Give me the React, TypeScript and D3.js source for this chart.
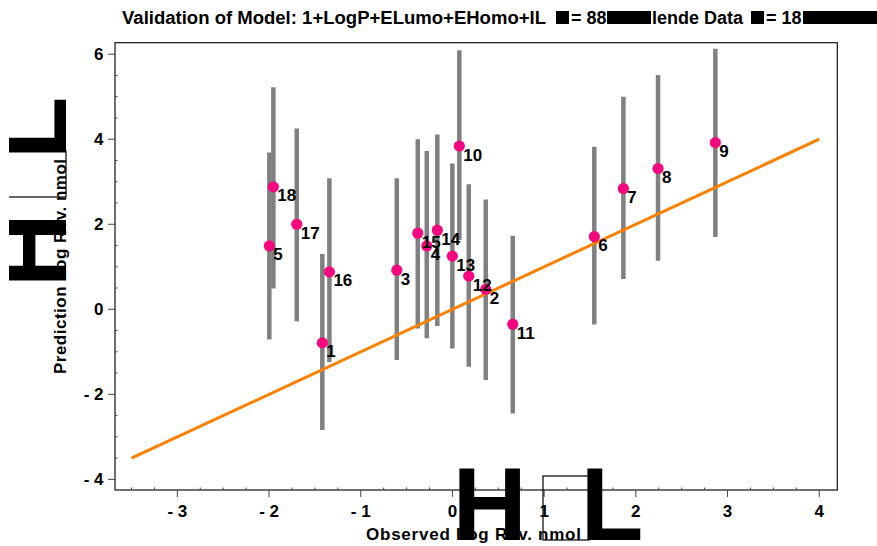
import React from "react";
import * as d3 from "d3";

// ---- data ----
const ids = [1, 2, 3, 4, 5, 6, 7, 8, 9, 10, 11, 12, 13, 14, 15, 16, 17, 18];
const observed = [-1.419, 0.363, -0.607, -0.28, -1.997, 1.547, 1.864, 2.242, 2.867, 0.075, 0.658, 0.178, -0.001, -0.165, -0.378, -1.342, -1.698, -1.953];
const predicted = [-0.79, 0.47, 0.92, 1.49, 1.49, 1.71, 2.84, 3.31, 3.92, 3.84, -0.35, 0.78, 1.25, 1.86, 1.79, 0.88, 2.0, 2.88];
const lower = [-2.84, -1.66, -1.19, -0.68, -0.71, -0.36, 0.71, 1.14, 1.7, 1.63, -2.45, -1.35, -0.92, -0.39, -0.45, -1.24, -0.28, 0.49];
const upper = [1.3, 2.58, 3.08, 3.72, 3.69, 3.82, 5.0, 5.51, 6.13, 6.09, 1.73, 2.94, 3.43, 4.11, 4.0, 3.08, 4.25, 5.22];
const identityLine = [-3.5, 4];
const xTicks = [-3, -2, -1, 0, 1, 2, 3, 4];
const yTicks = [-4, -2, 0, 2, 4, 6];

const W = 877;
const H = 546;
const FONT = "'Liberation Sans', Arial, sans-serif";

export default function App() {
  const x = d3.scaleLinear().domain([-3.68, 4.197]).range([115, 837.3]);
  const y = d3.scaleLinear().domain([-4.25, 6.27]).range([490, 42.7]);
  const [x0, x1] = x.range();
  const [y0, y1] = y.range();

  const xMinor = d3.range(-3.5, 4.2, 0.25).filter((v) => Math.abs(v - Math.round(v)) > 1e-6 && x(v) > x0 && x(v) < x1);
  const yMinor = d3.range(-4, 6.3, 0.5).filter((v) => Math.abs(v / 2 - Math.round(v / 2)) > 1e-6 && y(v) < y0 && y(v) > y1);
  const fmt = (v: number) => (v < 0 ? "- " + Math.abs(v) : String(v));

  const line = d3
    .line<number>()
    .x((v) => x(v))
    .y((v) => y(v));

  const bigText = { fontFamily: FONT, fontWeight: 700, fontSize: 103, fill: "#000" } as const;
  const lblText = { fontFamily: FONT, fontWeight: 700, fontSize: 17, fill: "#000" } as const;

  const axisLabel = (txt: string, len: number) => (
    <>
      <text x={0} y={0} {...lblText} textLength={len} lengthAdjust="spacing">
        {txt}
      </text>
      <text x={86.5} y={0} {...bigText}>H</text>
      <rect x={177} y={-64} width={46} height={64} fill="none" stroke="#000" strokeWidth={1.2} />
      <text x={214.5} y={0} {...bigText}>L</text>
    </>
  );

  return (
    <svg width={W} height={H} style={{ position: "absolute", left: 0, top: 0, background: "#fff" }}>
      <defs>
        <clipPath id="leftclip">
          <rect x={9} y={0} width={W} height={H} />
        </clipPath>
      </defs>
      <rect x={0} y={0} width={W} height={H} fill="#fff" />

      {/* title */}
      <g fontFamily={FONT} fontWeight={700} fontSize={18} fill="#000">
        <text x={122} y={24} textLength={424} lengthAdjust="spacingAndGlyphs">Validation of Model: 1+LogP+ELumo+EHomo+IL</text>
        <rect x={556} y={11} width={13} height={13} fill="#000" />
        <text x={571} y={24}>= 88</text>
        <rect x={607} y={11} width={44} height={13} fill="#000" />
        <text x={652} y={24}>lende Data</text>
        <rect x={751} y={11} width={13} height={13} fill="#000" />
        <text x={766} y={24}>= 18</text>
        <rect x={803} y={11} width={74} height={13} fill="#000" />
      </g>

      {/* error bars */}
      <g stroke="#808080" strokeWidth={4.5}>
        {ids.map((id, i) => (
          <line key={id} x1={x(observed[i])} x2={x(observed[i])} y1={y(lower[i])} y2={y(upper[i])} />
        ))}
      </g>

      {/* identity line */}
      <path d={line(identityLine) || ""} stroke="#ff8000" strokeWidth={3} fill="none" />

      {/* points */}
      <g fill="#f5077f">
        {ids.map((id, i) => (
          <circle key={id} cx={x(observed[i])} cy={y(predicted[i])} r={5.6} />
        ))}
      </g>
      <g {...lblText}>
        {ids.map((id, i) => (
          <text key={id} x={x(observed[i]) + 4} y={y(predicted[i]) + 14.5}>
            {id}
          </text>
        ))}
      </g>

      {/* frame */}
      <rect x={x0} y={y1} width={x1 - x0} height={y0 - y1} fill="none" stroke="#111" strokeWidth={1.2} />

      {/* ticks */}
      <g stroke="#444" strokeWidth={1}>
        {xTicks.map((v) => (
          <line key={v} x1={x(v)} x2={x(v)} y1={y0} y2={y0 + 7} />
        ))}
        {xMinor.map((v) => (
          <line key={"m" + v} x1={x(v)} x2={x(v)} y1={y0} y2={y0 - 2.5} />
        ))}
        {yTicks.map((v) => (
          <line key={"y" + v} x1={x0 - 7} x2={x0} y1={y(v)} y2={y(v)} />
        ))}
        {yMinor.map((v) => (
          <line key={"ym" + v} x1={x0} x2={x0 + 2.5} y1={y(v)} y2={y(v)} />
        ))}
      </g>
      <g {...lblText}>
        {xTicks.map((v) => (
          <text key={v} x={x(v)} y={516.5} textAnchor="middle">
            {fmt(v)}
          </text>
        ))}
        {yTicks.map((v) => (
          <text key={v} x={103.5} y={y(v) + 6} textAnchor="end">
            {fmt(v)}
          </text>
        ))}
      </g>

      {/* axis labels */}
      <g transform="translate(366,540)">{axisLabel("Observed  Log Rev. nmol", 215)}</g>
      <g clipPath="url(#leftclip)">
        <g transform="translate(66,374) rotate(-90)">{axisLabel("Prediction  Log Rev. nmol", 215)}</g>
      </g>
    </svg>
  );
}
